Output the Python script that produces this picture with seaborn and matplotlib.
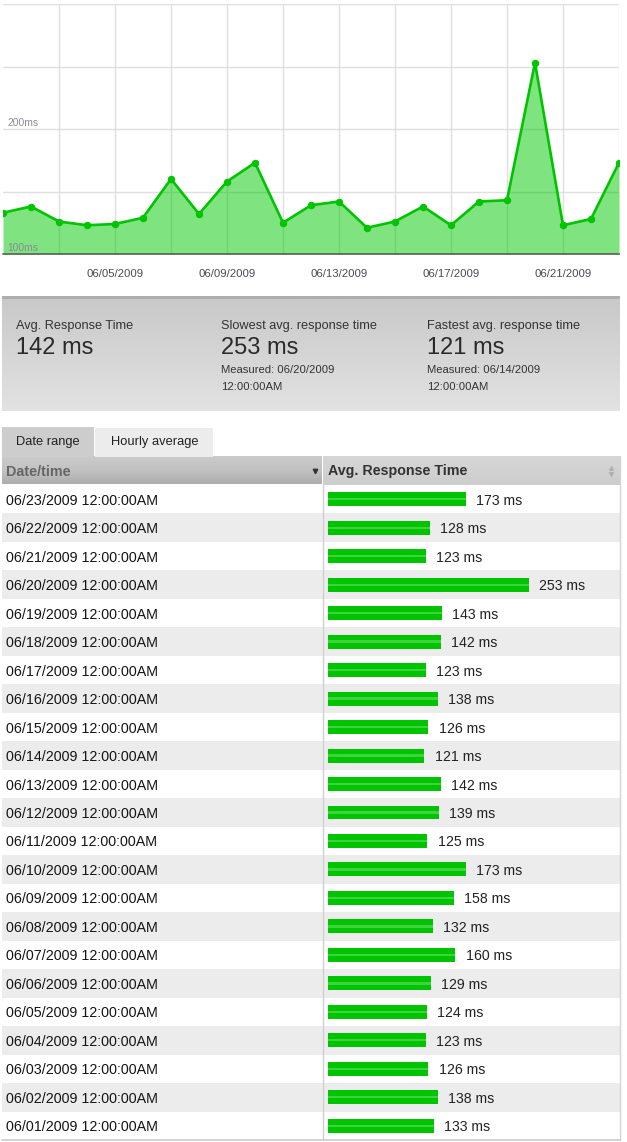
import numpy as np
import pandas as pd
import matplotlib
matplotlib.use('Agg')
import matplotlib.pyplot as plt
import matplotlib.dates as mdates
from matplotlib.patches import Rectangle
from matplotlib.colors import LinearSegmentedColormap
import seaborn as sns

# daily average response times, chronological
dates = ['06/01/2009', '06/02/2009', '06/03/2009', '06/04/2009', '06/05/2009',
         '06/06/2009', '06/07/2009', '06/08/2009', '06/09/2009', '06/10/2009',
         '06/11/2009', '06/12/2009', '06/13/2009', '06/14/2009', '06/15/2009',
         '06/16/2009', '06/17/2009', '06/18/2009', '06/19/2009', '06/20/2009',
         '06/21/2009', '06/22/2009', '06/23/2009']
resp_ms = [133, 138, 126, 123, 124, 129, 160, 132, 158, 173, 125, 139,
           142, 121, 126, 138, 123, 142, 143, 253, 123, 128, 173]
time_of_day = '12:00:00AM'
tab_names = ['Date range', 'Hourly average']
col_names = ['Date/time', 'Avg. Response Time']

GREEN = '#00c400'
VA = 'center_baseline'

sns.set_style('white')
plt.rcParams['font.family'] = ['Liberation Sans', 'DejaVu Sans']

W, H = 627, 1142
fig = plt.figure(figsize=(W / 100, H / 100), dpi=100)


def px_axes(x0, y0, x1, y1):
    return fig.add_axes([x0 / W, 1 - y1 / H, (x1 - x0) / W, (y1 - y0) / H])


# background / decoration layer in pixel coordinates
bg = px_axes(0, 0, W, H)

# ---- area chart ----
df = pd.DataFrame({'date': pd.to_datetime(dates, format='%m/%d/%Y'), 'ms': resp_ms})
ax = px_axes(3, 4, 619, 254)
ax.patch.set_alpha(0)
ax.set_axisbelow(True)
ax.fill_between(df['date'], df['ms'], 100, color='#00c800', alpha=0.5, lw=0, zorder=2)
sns.lineplot(data=df, x='date', y='ms', ax=ax, color=GREEN, lw=1.9, marker='o',
             markersize=4.6, markeredgecolor=GREEN, zorder=3)
ax.set_xlim(df['date'].iloc[0], df['date'].iloc[-1])
ax.set_ylim(100, 300)
ax.set_yticks([150, 200, 250, 300])
ax.xaxis.set_major_locator(mdates.DayLocator(bymonthday=[5, 9, 13, 17, 21]))
ax.xaxis.set_minor_locator(mdates.DayLocator(bymonthday=list(range(3, 24, 2))))
ax.xaxis.set_major_formatter(mdates.DateFormatter('%m/%d/%Y'))
ax.grid(True, which='both', color='#e0e0e0', lw=1)
ax.tick_params(axis='y', length=0, labelleft=False)
ax.tick_params(axis='x', which='major', length=4, width=1, color='#555555',
               labelsize=8.2, labelcolor='#4a4a55', pad=7)
ax.tick_params(axis='x', which='minor', length=0)
ax.set_xlabel('')
ax.set_ylabel('')
for s in ['top', 'left', 'right']:
    ax.spines[s].set_visible(False)
ax.spines['bottom'].set_color('#555555')
ax.spines['bottom'].set_linewidth(1.1)
ytr = ax.get_yaxis_transform()
ax.text(0.007, 202.4, '200ms', transform=ytr, fontsize=7.4, color='#8a8a9c', va='baseline')
ax.text(0.007, 102.4, '100ms', transform=ytr, fontsize=7.4, color='#8a8a9c', va='baseline')

# ---- summary panel ----
panel_cmap = LinearSegmentedColormap.from_list('panel', ['#c9c9c9', '#e2e2e2'])
bg.imshow(np.linspace(0, 1, 64)[:, None], extent=(2, 620, 411, 299), cmap=panel_cmap,
          aspect='auto', origin='upper', zorder=0)
bg.add_patch(Rectangle((2, 296), 618, 3, color='#aeaeae', lw=0))

avg_v = round(sum(resp_ms) / len(resp_ms))
i_max = int(np.argmax(resp_ms))
i_min = int(np.argmin(resp_ms))
stats = [(16, 'Avg. Response Time', avg_v, None),
         (221, 'Slowest avg. response time', resp_ms[i_max], dates[i_max]),
         (427, 'Fastest avg. response time', resp_ms[i_min], dates[i_min])]
for x, title, val, when in stats:
    bg.text(x, 324, title, fontsize=9.2, color='#333333', va=VA)
    bg.text(x, 346, f'{val} ms', fontsize=17, color='#2a2a2a', va=VA)
    if when:
        bg.text(x, 369, f'Measured: {when}', fontsize=8.1, color='#333333', va=VA)
        bg.text(x, 386, time_of_day, fontsize=8.1, color='#333333', va=VA)

# ---- tabs and header ----
bg.add_patch(Rectangle((2, 427), 92, 30, color='#cdcdcd', lw=0))
bg.add_patch(Rectangle((95, 428), 118, 29, color='#ececec', lw=0))
bg.text(16, 441, tab_names[0], fontsize=9.3, color='#222222', va=VA)
bg.text(111, 441, tab_names[1], fontsize=9.3, color='#222222', va=VA)

hdr_cmap = LinearSegmentedColormap.from_list('hdr', ['#cbcbcb', '#c2c2c2', '#adadad'])
bg.imshow(np.linspace(0, 1, 64)[:, None], extent=(2, 322, 484, 456), cmap=hdr_cmap,
          aspect='auto', origin='upper', zorder=0)
hdr2_cmap = LinearSegmentedColormap.from_list('hdr2', ['#d6d6d6', '#cdcdcd'])
bg.imshow(np.linspace(0, 1, 64)[:, None], extent=(323, 620, 485, 456), cmap=hdr2_cmap,
          aspect='auto', origin='upper', zorder=0)
bg.text(6, 470, col_names[0], fontsize=10.4, fontweight='bold', color='#666666', va=VA)
bg.text(328, 470, col_names[1], fontsize=10.3, fontweight='bold', color='#333333', va=VA)
bg.plot(315, 471, marker='v', ms=3.2, color='#333333', zorder=3)
bg.plot(611, 467.5, marker='^', ms=2.6, color='#b0b0b0', zorder=3)
bg.plot(611, 474, marker='v', ms=2.6, color='#b0b0b0', zorder=3)

# ---- table rows ----
tab = pd.DataFrame({'date': dates[::-1], 'ms': resp_ms[::-1]})
top, bottom = 485, 1140
row_h = (bottom - top) / len(tab)
for i, d in enumerate(tab['date']):
    yc = top + (i + 0.5) * row_h
    if i % 2 == 1:
        bg.add_patch(Rectangle((2, top + i * row_h), 618, row_h, color='#ececec', lw=0, zorder=0))
    bg.text(6, yc, f'{d} {time_of_day}', fontsize=10.3, color='#151515', va=VA)
bg.plot([323, 323], [485, bottom], color='#cfcfcf', lw=1)
bg.plot([620, 620], [456, bottom], color='#d4d4d4', lw=1)
bg.plot([2, 620], [bottom, bottom], color='#cccccc', lw=1.2)

bg.set_xlim(0, W)
bg.set_ylim(H, 0)
bg.axis('off')

# bars
px_per_ms = 0.795
axb = px_axes(323, top, 620, bottom)
sns.barplot(data=tab, x='ms', y='date', orient='h', color=GREEN, saturation=1,
            width=0.49, linewidth=0, ax=axb)
sns.barplot(data=tab, x='ms', y='date', orient='h', color='#3ed43e', saturation=1,
            width=0.08, linewidth=0, ax=axb)
for i, v in enumerate(tab['ms']):
    axb.text(v + 13, i, f'{v} ms', fontsize=10.2, color='#222222', va=VA)
axb.set_xlim(-5 / px_per_ms, 292 / px_per_ms)
axb.set_ylim(len(tab) - 0.5, -0.5)
axb.axis('off')

fig.savefig('out.png', dpi=100)
